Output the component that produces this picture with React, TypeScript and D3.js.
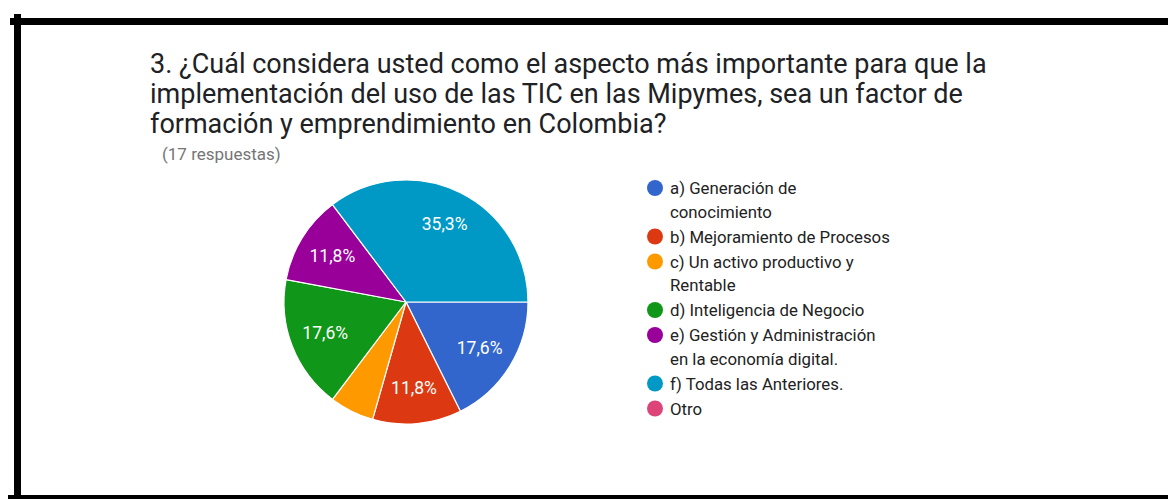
import React from 'react';
import * as d3 from 'd3';

const titleLines = [
  '3. ¿Cuál considera usted como el aspecto más importante para que la',
  'implementación del uso de las TIC en las Mipymes, sea un factor de',
  'formación y emprendimiento en Colombia?',
];
const subtitle = '(17 respuestas)';

const categories = [
  ['a) Generación de', 'conocimiento'],
  ['b) Mejoramiento de Procesos'],
  ['c) Un activo productivo y', 'Rentable'],
  ['d) Inteligencia de Negocio'],
  ['e) Gestión y Administración', 'en la economía digital.'],
  ['f) Todas las Anteriores.'],
  ['Otro'],
];
const counts = [3, 2, 1, 3, 2, 6, 0];
const colors = ['#3366cc', '#dc3912', '#ff9900', '#109618', '#990099', '#0099c6', '#dd4477'];

const W = 1168;
const H = 500;
const cx = 406;
const cy = 302;
const R = 122;
const font = 'Roboto, Arial, sans-serif';

export default function App() {
  const total = d3.sum(counts);
  // google-style pie: starts at 3 o'clock, clockwise
  const pie = d3.pie<number>().sort(null).startAngle(Math.PI / 2).endAngle(Math.PI / 2 + 2 * Math.PI);
  const arcs = pie(counts);
  const arc = d3.arc<d3.PieArcDatum<number>>().innerRadius(0).outerRadius(R);
  const labelArc = d3.arc<d3.PieArcDatum<number>>().innerRadius(R * 0.71).outerRadius(R * 0.71);
  const fmt = (v: number) => ((v / total) * 100).toFixed(1).replace('.', ',') + '%';

  let y = 188;
  const legendRows = categories.map((lines) => {
    const row = { y, lines };
    y += 25 + (lines.length - 1) * 23.5;
    return row;
  });

  return (
    <div style={{ position: 'fixed', left: 0, top: 0, width: W, height: H, background: '#fff' }}>
      <svg width={W} height={H} style={{ display: 'block' }}>
        <rect x={0} y={0} width={W} height={H} fill="#fff" />
        {/* frame */}
        <rect x={10} y={18} width={W - 10} height={7} fill="#000" />
        <rect x={14} y={14} width={7} height={485} fill="#000" />
        <rect x={8} y={495} width={W - 8} height={4} fill="#000" />

        <g fontFamily={font}>
          {titleLines.map((t, i) => (
            <text key={i} x={150} y={73 + i * 30} fontSize={27} fill="#202124">
              {t}
            </text>
          ))}
          <text x={162} y={160} fontSize={17} fill="#757575">
            {subtitle}
          </text>

          <g transform={`translate(${cx},${cy})`}>
            {arcs.map((a, i) =>
              a.value > 0 ? (
                <path key={i} d={arc(a) || ''} fill={colors[i]} stroke="#fff" strokeWidth={1.2} />
              ) : null
            )}
            {arcs.map((a, i) => {
              if (a.value / total < 0.1) return null;
              const [lx, ly] = labelArc.centroid(a);
              return (
                <text
                  key={'l' + i}
                  x={lx}
                  y={ly}
                  textAnchor="middle"
                  dominantBaseline="central"
                  fontSize={17.5}
                  fill="#fff"
                >
                  {fmt(a.value)}
                </text>
              );
            })}
          </g>

          <g>
            {legendRows.map((r, i) => (
              <g key={i}>
                <circle cx={655} cy={r.y} r={8} fill={colors[i]} />
                {r.lines.map((l, j) => (
                  <text key={j} x={670} y={r.y + j * 23.5} dominantBaseline="central" fontSize={16.8} fill="#222">
                    {l}
                  </text>
                ))}
              </g>
            ))}
          </g>
        </g>
      </svg>
    </div>
  );
}
